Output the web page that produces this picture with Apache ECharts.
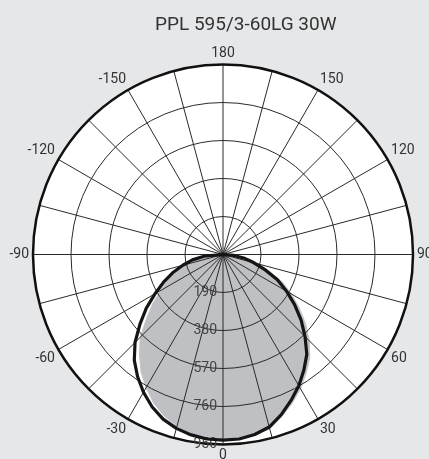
<!DOCTYPE html>
<html><head><meta charset="utf-8">
<script src="https://cdn.jsdelivr.net/npm/echarts@6/dist/echarts.min.js"></script>
<style>html,body{margin:0;padding:0;background:#e6e7e9}#c{width:429px;height:459px}</style>
</head><body><div id="c"></div>
<script>
const titleText = 'PPL 595/3-60LG 30W';
// gamma angles (deg), 0 = straight down
const angles = [-90,-85,-80,-75,-70,-65,-60,-55,-50,-45,-40,-35,-30,-25,-20,-15,-10,-5,0,5,10,15,20,25,30,35,40,45,50,55,60,65,70,75,80,85,90];
// plane drawn as thick black line (cd)
const planeLine = [0,95,155,208,268,328,392,468,542,622,690,745,795,840,876,900,916,926,928,926,914,893,852,805,758,705,652,580,510,437,367,300,225,160,110,55,0];
// plane drawn as grey filled area (cd)
const planeFill = [0,75,135,185,245,305,360,430,500,585,650,715,770,820,860,890,910,922,928,928,918,902,862,820,775,725,675,610,540,465,395,330,250,190,135,70,0];
const radiusMax = 950, radiusStep = 190;
const angleStep = 15, angleLabelStep = 30;

function toAxisAngle(a){ return a < 0 ? a + 360 : a; }
function pairs(vals){ return vals.map((v,i)=>[v, toAxisAngle(angles[i])]); }
const polarCommon = {center:[223,254.5], radius:190};
const font = 'Roboto';
const option = {
  backgroundColor:'#e6e7e9',
  animation:false,
  title: {text: titleText, left: 150, top: 11, textStyle:{fontFamily:font, fontSize:19, fontWeight:'normal', color:'#333'}},
  polar: [polarCommon, polarCommon],
  angleAxis: [
    {polarIndex:0, type:'value', min:0, max:360, interval:angleStep, startAngle:270, clockwise:false, z:0,
     axisLine:{show:false}, axisTick:{show:false}, axisLabel:{show:false}, splitLine:{show:false},
     splitArea:{show:true, areaStyle:{color:['#ffffff']}}},
    {polarIndex:1, type:'value', min:0, max:360, interval:angleStep, startAngle:270, clockwise:false, z:3,
     axisLine:{show:true, lineStyle:{color:'#111', width:2.5}}, axisTick:{show:false},
     axisLabel:{margin:4, color:'#333', fontSize:14, fontFamily:font,
       formatter:function(v){ if (v % angleLabelStep !== 0 || v === 360) return ''; return String(v > 180 ? v - 360 : v); }},
     splitLine:{show:true, lineStyle:{color:'#2a2a2a', width:1}}}
  ],
  radiusAxis: [
    {polarIndex:0, type:'value', min:0, max:radiusMax, interval:radiusStep,
     axisLine:{show:false}, axisLabel:{show:false}, axisTick:{show:false}, splitLine:{show:false}},
    {polarIndex:1, type:'value', min:0, max:radiusMax, interval:radiusStep, z:3,
     axisLine:{show:false}, axisTick:{show:false},
     axisLabel:{showMinLabel:false, color:'#444', fontSize:14, fontFamily:font, margin:0,
       align:'right', verticalAlign:'middle', padding:[0,6,0,0]},
     splitLine:{show:true, lineStyle:{color:'#2a2a2a', width:1}}}
  ],
  series: [
    {type:'line', coordinateSystem:'polar', polarIndex:1, data:pairs(planeFill), symbol:'none',
     lineStyle:{width:1, color:'#c4c5c9'}, areaStyle:{color:'#bfc0c4', opacity:1}, z:2, silent:true},
    {type:'line', coordinateSystem:'polar', polarIndex:1, data:pairs(planeLine), symbol:'none',
     lineStyle:{width:3.2, color:'#151515'}, z:5, silent:true}
  ]
};
const chart = echarts.init(document.getElementById('c'));
chart.setOption(option);
</script></body></html>
